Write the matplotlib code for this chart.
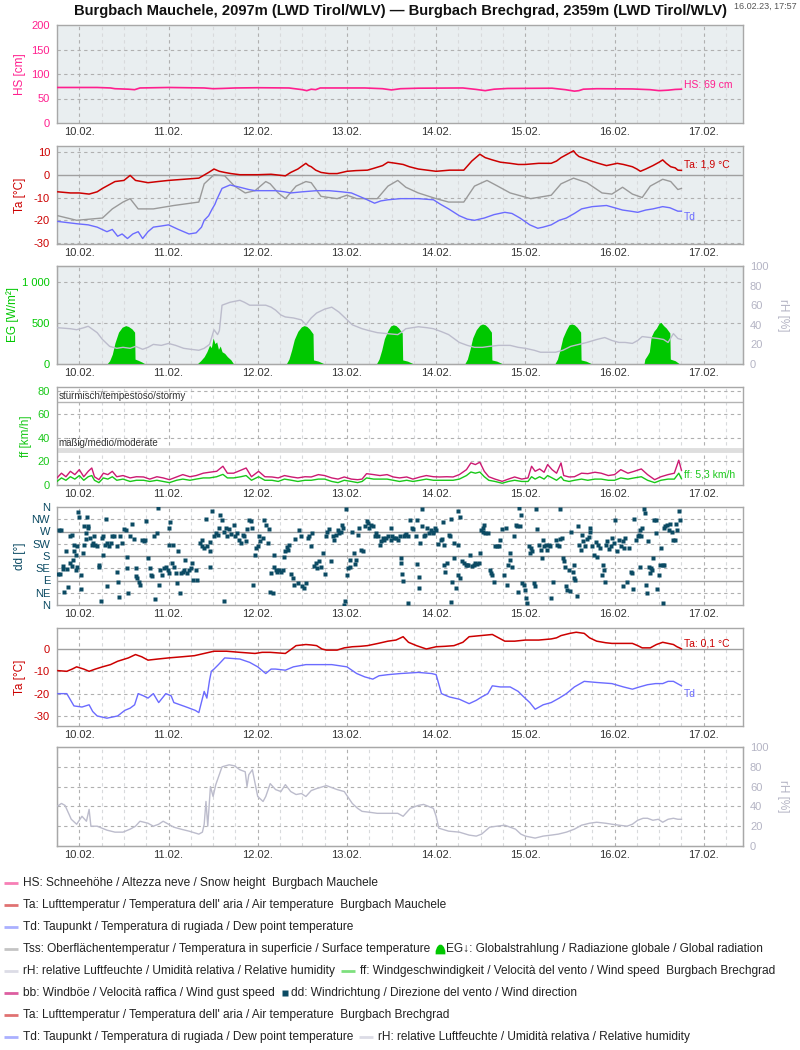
import matplotlib
matplotlib.use('Agg')
import matplotlib.pyplot as plt
import numpy as np

plt.rcParams['font.family'] = ['Liberation Sans', 'DejaVu Sans']
plt.rcParams['axes.unicode_minus'] = False

# ---------------- data (x = day of February, fractional) ----------------
day_ticks = [10, 11, 12, 13, 14, 15, 16, 17]
day_labels = ['10.02.', '11.02.', '12.02.', '13.02.', '14.02.', '15.02.', '16.02.', '17.02.']

hs = [(9.75,72.5),(10.2,72.5),(10.35,71.5),(10.4,70),(10.55,69),(10.62,68),(10.68,71.5),(11.0,72.5),
      (11.4,71.5),(11.5,70),(11.6,70.5),(11.75,71.5),(12.0,72),(12.35,71.5),(12.5,68),(12.55,66),
      (12.6,69),(12.65,68),(12.7,71.5),(13.2,71.5),(13.4,70),(13.5,67.5),(13.6,70),(13.8,71),(14.3,71.5),
      (14.45,68.5),(14.55,66),(14.65,69),(14.8,70.5),(15.3,71),(15.45,68),(15.55,65),(15.6,66),(15.65,69),
      (15.8,70),(16.2,69.5),(16.4,68),(16.5,66),(16.6,67),(16.68,68.5),(16.75,69)]

ta_mauchele = [(9.76,-7.5),(9.9,-8),(10.0,-8),(10.11,-8.5),(10.2,-7.5),(10.26,-6),(10.33,-4.5),(10.4,-3),
      (10.5,-2.5),(10.57,-0.3),(10.63,-2.5),(10.7,-3),(10.77,-3.5),(10.88,-3),(11.0,-2.5),(11.17,-2),
      (11.34,-1.5),(11.45,1),(11.51,2.5),(11.57,1.5),(11.63,1),(11.7,0.5),(11.8,0),(12.0,0),(12.15,0.2),
      (12.31,-0.5),(12.37,1),(12.45,2.5),(12.54,5),(12.57,4),(12.6,3.5),(12.65,2),(12.71,1),(12.8,0.5),
      (12.89,0.5),(13.0,1.5),(13.1,1.8),(13.23,2),(13.3,2.8),(13.4,4),(13.46,5.5),(13.55,5),(13.63,4.5),
      (13.7,3.5),(13.8,2.5),(13.9,2),(14.0,1.5),(14.15,2),(14.31,2),(14.4,6),(14.49,9),(14.55,7.5),
      (14.63,6.5),(14.72,5.5),(14.83,5),(14.92,4.5),(15.0,4.5),(15.15,5),(15.29,5),(15.35,6),(15.4,7.5),
      (15.47,9),(15.54,10.5),(15.57,9),(15.6,8),(15.67,7),(15.74,6),(15.82,5),(15.91,4),(15.97,4.5),
      (16.03,5),(16.1,4.5),(16.2,3.5),(16.25,2.5),(16.29,1.5),(16.35,2.5),(16.43,4),(16.5,5.5),(16.54,6.5),
      (16.58,5),(16.63,3.5),(16.68,3),(16.71,2),(16.75,1.9)]

tss_mauchele = [(9.76,-18),(9.97,-20),(10.26,-19),(10.37,-15),(10.49,-12),(10.57,-10.5),(10.66,-15),
      (10.83,-15),(11.06,-13.5),(11.34,-12),(11.4,-4),(11.51,0),(11.63,-0.5),(11.74,-5),(11.86,-8),
      (11.97,-7),(12.09,-3),(12.14,-4),(12.23,-8),(12.31,-10.5),(12.43,-5),(12.54,-3),(12.6,-3.5),
      (12.71,-9.5),(12.89,-10.5),(13.0,-9),(13.11,-10.5),(13.34,-10.5),(13.46,-5),(13.57,-2.5),(13.66,-5.5),
      (13.8,-8),(14.0,-10.5),(14.14,-12),(14.31,-12),(14.43,-5),(14.57,-2.5),(14.69,-5),(14.83,-8),
      (15.06,-10.5),(15.29,-9),(15.4,-4),(15.54,-1.5),(15.69,-3.5),(15.86,-8),(15.97,-8.5),(16.09,-5.5),
      (16.2,-8.5),(16.31,-10),(16.4,-5),(16.54,-2),(16.63,-3),(16.71,-6.5),(16.75,-6)]

td_mauchele = [(9.76,-20.5),(9.97,-21.5),(10.1,-22),(10.2,-23),(10.31,-25),(10.37,-24),(10.43,-27),
      (10.48,-26),(10.54,-28),(10.6,-26),(10.66,-25),(10.71,-28),(10.77,-25),(10.83,-23),(10.92,-22.5),
      (11.0,-22),(11.11,-24),(11.23,-26),(11.31,-25.5),(11.37,-23),(11.4,-20),(11.45,-18),(11.49,-15),
      (11.52,-13),(11.54,-11),(11.6,-6),(11.69,-4.5),(11.8,-5.5),(11.9,-6.5),(11.97,-7),(12.1,-7),
      (12.2,-7),(12.3,-7.5),(12.37,-8),(12.5,-7.5),(12.66,-7),(12.8,-7),(12.94,-7.5),(13.05,-8),
      (13.11,-9),(13.2,-10.5),(13.31,-12.5),(13.38,-11.5),(13.46,-11),(13.6,-10.5),(13.69,-10.5),
      (13.8,-10.5),(13.97,-11),(14.05,-13),(14.14,-15),(14.2,-16.5),(14.26,-18),(14.35,-19.5),(14.43,-20),
      (14.54,-19),(14.65,-17.5),(14.77,-16.5),(14.85,-17),(14.94,-19),(15.05,-22),(15.14,-23.5),
      (15.2,-23),(15.29,-22),(15.38,-20),(15.46,-19),(15.55,-17),(15.63,-15),(15.75,-14),(15.91,-13.5),
      (16.0,-14.5),(16.09,-15.5),(16.18,-16),(16.26,-16.5),(16.35,-15.5),(16.43,-15),(16.54,-14),
      (16.62,-14.5),(16.71,-16),(16.75,-16)]

eg_mauchele = [(9.75,0),(10.31,0),(10.34,40),(10.37,120),(10.40,260),(10.44,390),(10.48,450),(10.52,470),
      (10.55,460),(10.59,430),(10.62,390),(10.625,60),(10.66,45),(10.70,25),(10.74,0),
      (11.32,0),(11.36,40),(11.40,90),(11.43,150),(11.46,230),(11.48,200),(11.50,320),(11.52,250),
      (11.54,270),(11.56,180),(11.58,220),(11.60,150),(11.63,130),(11.66,90),(11.70,50),(11.73,0),
      (12.32,0),(12.35,60),(12.38,170),(12.41,300),(12.45,400),(12.49,455),(12.52,470),(12.55,460),
      (12.58,430),(12.62,370),(12.625,50),(12.68,35),(12.72,15),(12.75,0),
      (13.33,0),(13.36,60),(13.39,170),(13.42,310),(13.46,410),(13.49,465),(13.52,480),(13.55,470),
      (13.58,440),(13.62,380),(13.625,50),(13.68,35),(13.72,15),(13.75,0),
      (14.32,0),(14.35,60),(14.38,180),(14.41,320),(14.45,420),(14.49,475),(14.52,490),(14.55,480),
      (14.58,450),(14.62,390),(14.625,50),(14.68,35),(14.72,15),(14.75,0),
      (15.33,0),(15.36,60),(15.39,180),(15.42,320),(15.46,420),(15.49,480),(15.52,490),(15.55,480),
      (15.58,450),(15.62,390),(15.625,50),(15.68,35),(15.72,15),(15.75,0),
      (16.33,0),(16.34,60),(16.37,110),(16.39,150),(16.41,330),(16.44,400),(16.47,440),(16.50,500),
      (16.52,510),(16.55,470),(16.58,440),(16.62,380),(16.625,60),(16.68,40),(16.73,0),(16.75,0)]

rh_mauchele = [(9.76,37),(9.9,36),(9.97,35),(10.05,37),(10.1,38.5),(10.2,32),(10.26,25),(10.34,18),
      (10.42,16),(10.49,17),(10.57,16),(10.63,18),(10.71,15),(10.77,17),(10.83,20),(10.92,19),(11.0,21),
      (11.08,19),(11.17,16),(11.25,15),(11.34,14),(11.4,16),(11.46,20),(11.51,35),(11.55,30),(11.57,34),
      (11.6,60),(11.69,63),(11.8,65),(11.85,63),(11.91,60),(12.0,60),(12.09,60),(12.15,58),(12.2,55),
      (12.26,50),(12.31,48),(12.4,47),(12.49,45),(12.54,40),(12.6,47),(12.66,52),(12.75,56),(12.83,58),
      (12.91,53),(12.98,47),(13.06,40),(13.17,36),(13.25,34),(13.34,32),(13.45,31),(13.57,30),(13.62,33),
      (13.66,36),(13.73,37),(13.8,38),(13.9,37),(13.97,36),(14.06,33),(14.14,30),(14.2,26),(14.26,22),
      (14.35,19),(14.43,17),(14.52,17),(14.6,18),(14.7,19),(14.83,19),(14.92,17),(15.0,16),(15.1,14),
      (15.17,12),(15.25,12),(15.34,12),(15.42,14),(15.51,18),(15.6,20),(15.69,22),(15.8,25),(15.89,27),
      (15.97,24),(16.05,22),(16.12,22),(16.2,21),(16.26,24),(16.31,28),(16.4,27),(16.49,26),(16.55,25),
      (16.6,22),(16.66,31),(16.71,26),(16.75,25)]

wind_t = [9.75,9.80,9.85,9.90,9.95,10.00,10.05,10.10,10.14,10.17,
          10.22,10.27,10.32,10.37,10.42,10.49,10.57,10.64,10.72,10.79,
          10.87,10.94,11.01,11.09,11.16,11.24,11.31,11.39,11.46,11.54,
          11.61,11.66,11.73,11.81,11.87,11.93,12.01,12.08,12.16,12.23,
          12.30,12.38,12.45,12.53,12.60,12.68,12.75,12.83,12.90,12.97,
          13.05,13.12,13.17,13.22,13.30,13.37,13.45,13.52,13.59,13.67,
          13.74,13.82,13.89,13.97,14.04,14.12,14.19,14.26,14.34,14.39,
          14.44,14.49,14.54,14.59,14.66,14.74,14.81,14.88,14.96,15.03,
          15.07,15.11,15.16,15.21,15.25,15.30,15.35,15.40,15.43,15.49,
          15.55,15.63,15.70,15.78,15.85,15.93,16.00,16.07,16.15,16.22,
          16.30,16.37,16.45,16.52,16.60,16.67,16.72,16.75]
bb_brechgrad = [6,10,7,11.6,8.8,13,7,11.6,14.4,7,
          4.5,10,8.8,11.6,7,8,6,7,6.8,5,
          7,6,4.5,6.8,8.8,7,8,10,10.8,11.6,
          15.9,10,10,12.5,14.4,7,11.6,7,6.8,6,
          8,6.8,6,7,6.8,8.8,8,6,5,6.8,
          5,4.5,5,9.6,8.8,8,8.8,6.8,6,6.8,
          5,6.8,8,7,6.8,7,6.8,8.8,13,18.7,
          17.3,19.3,11.6,7,5,3.1,5,6.8,5,6,
          15.9,11.6,13.6,10.8,17.3,13,10,18.7,8,6.8,
          7,10,9.6,10.8,10,8,8.8,13,10,11.6,
          13.6,8.8,4.5,7,8.8,10,21,12.5]
ff_brechgrad = [3,6,4,7,5,8,4,7,8,4,
          2,6,5,7,4,5,3,4,4,3,
          4,3,2,4,5,4,5,6,6,7,
          9,6,6,7,8,4,7,4,4,3,
          5,4,3,4,4,5,5,3,2,4,
          3,2,3,6,5,5,5,4,3,4,
          3,4,5,4,4,4,4,5,8,11,
          10,11,7,4,3,1.5,3,4,3,3,
          7,5,7,5,8,6,4,7,4,3,
          4,5,4,5,5,4,4,6,5,6,
          7,4,2,4,5,5,10,5.3]

dd_brechgrad = [
 (9.77,277),(9.79,277),(9.76,114),(9.78,114),(9.85,199),(9.82,144),(9.82,132),(9.86,132),(9.83,49),(9.87,65),
 (9.9,252),(9.92,257),(9.94,221),(9.97,215),(9.94,197),(9.96,184),(9.93,166),(9.9,156),(9.92,144),(9.97,141),
 (9.96,129),(9.99,342),(10.0,323),(10.02,58),(10.02,111),(10.05,289),(10.08,264),(10.1,291),(10.1,283),(10.09,323),
 (10.12,246),(10.14,221),(10.16,252),(10.15,227),(10.18,221),(10.2,218),(10.04,191),(10.05,221),(10.07,242),(10.22,148),
 (10.22,141),(10.24,15),(10.25,246),(10.27,252),(10.29,221),(10.3,316),(10.31,227),(10.27,184),(10.31,70),(10.33,215),
 (10.35,227),(10.37,254),(10.39,252),(10.42,218),(10.42,123),(10.43,86),(10.44,28),(10.46,252),(10.48,227),(10.5,279),
 (10.52,277),(10.54,178),(10.54,135),(10.55,43),(10.57,252),(10.59,298),(10.61,242),(10.63,135),(10.64,105),(10.65,98),
 (10.67,86),(10.68,74),(10.7,240),(10.72,234),(10.74,240),(10.75,307),(10.77,172),(10.79,135),(10.8,111),(10.82,105),
 (10.84,254),(10.85,21),(10.87,264),(10.88,357),(10.89,74),(10.91,129),(10.93,111),(10.95,135),(10.97,139),(10.99,129),
 (11.0,221),(11.01,283),(11.02,304),(11.01,117),(11.04,154),(11.05,221),(11.06,141),(11.08,117),(11.09,82),(11.11,197),
 (11.13,43),(11.14,117),(11.16,123),(11.17,129),(11.19,166),(11.21,117),(11.23,129),(11.25,135),(11.26,154),(11.28,92),
 (11.31,129),(11.32,92),(11.35,227),(11.37,237),(11.38,218),(11.4,209),(11.42,316),(11.43,215),(11.46,230),(11.47,197),
 (11.46,141),(11.49,344),(11.51,252),(11.53,264),(11.55,258),(11.57,283),(11.58,332),(11.6,313),(11.62,267),(11.62,16),
 (11.64,283),(11.66,252),(11.68,279),(11.7,262),(11.73,295),(11.75,252),(11.77,264),(11.79,240),(11.81,227),(11.83,258),
 (11.85,252),(11.87,234),(11.88,279),(11.9,313),(11.92,307),(11.94,283),(11.95,74),(11.97,184),(11.98,209),(12.0,215),
 (12.01,252),(12.03,234),(12.06,246),(12.07,313),(12.09,295),(12.11,227),(12.13,279),(12.14,49),(12.15,117),(12.17,43),
 (12.18,184),(12.18,141),(12.2,129),(12.22,123),(12.24,129),(12.26,123),(12.28,129),(12.3,178),(12.31,197),(12.33,212),
 (12.34,203),(12.35,221),(12.37,114),(12.39,98),(12.41,74),(12.42,242),(12.45,80),(12.46,277),(12.48,252),(12.5,70),
 (12.52,61),(12.54,80),(12.56,246),(12.58,252),(12.6,215),(12.61,264),(12.63,144),(12.65,154),(12.67,135),(12.69,160),
 (12.71,141),(12.73,191),(12.75,114),(12.77,252),(12.78,270),(12.8,279),(12.82,160),(12.84,252),(12.86,240),(12.88,258),
 (12.9,277),(12.91,264),(12.93,270),(12.95,295),(12.96,283),(12.97,0),(12.98,16),(12.99,353),(13.0,111),(13.01,135),
 (13.03,141),(13.04,166),(13.06,267),(13.08,191),(13.09,151),(13.1,166),(13.12,258),(13.14,283),(13.16,203),(13.18,197),
 (13.2,291),(13.22,307),(13.24,301),(13.25,283),(13.27,295),(13.29,289),(13.31,252),(13.33,264),(13.35,252),(13.37,221),
 (13.38,234),(13.4,246),(13.42,240),(13.44,246),(13.46,252),(13.49,283),(13.49,240),(13.51,254),(13.53,246),(13.55,246),
 (13.57,240),(13.59,252),(13.61,154),(13.62,114),(13.61,172),(13.63,89),(13.69,9),(13.64,252),(13.65,258),(13.66,262),
 (13.68,254),(13.71,311),(13.73,283),(13.74,279),(13.77,252),(13.79,311),(13.79,151),(13.81,102),(13.81,61),(13.82,227),
 (13.84,353),(13.84,289),(13.86,252),(13.88,258),(13.9,283),(13.92,264),(13.94,277),(13.96,267),(13.97,264),(13.99,283),
 (14.0,277),(14.02,225),(14.05,240),(14.07,242),(14.08,304),(14.09,221),(14.09,148),(14.1,123),(14.12,154),(14.14,258),
 (14.16,252),(14.17,316),(14.17,12),(14.18,86),(14.2,227),(14.2,172),(14.22,61),(14.24,111),(14.25,221),(14.25,344),
 (14.27,323),(14.27,98),(14.29,160),(14.31,154),(14.33,148),(14.35,148),(14.36,148),(14.38,184),(14.4,144),(14.42,148),
 (14.44,154),(14.46,151),(14.48,154),(14.49,191),(14.5,277),(14.52,270),(14.53,283),(14.54,295),(14.55,264),(14.58,264),
 (14.6,129),(14.61,117),(14.63,111),(14.65,86),(14.66,218),(14.68,215),(14.7,215),(14.72,240),(14.74,279),(14.76,111),
 (14.78,283),(14.79,74),(14.81,148),(14.83,164),(14.83,191),(14.85,141),(14.87,252),(14.89,295),(14.91,289),(14.92,49),
 (14.93,357),(14.94,289),(14.95,332),(14.96,80),(14.98,74),(15.0,55),(15.01,25),(15.02,9),(15.04,215),(15.05,191),
 (15.06,209),(15.08,197),(15.1,80),(15.11,68),(15.12,353),(15.13,279),(15.15,221),(15.17,203),(15.19,172),(15.2,240),
 (15.21,215),(15.23,221),(15.24,203),(15.26,221),(15.28,215),(15.29,25),(15.31,86),(15.34,240),(15.36,221),(15.38,215),
 (15.39,353),(15.39,242),(15.41,246),(15.42,172),(15.43,160),(15.45,141),(15.46,70),(15.47,55),(15.49,129),(15.5,53),
 (15.51,267),(15.53,123),(15.54,98),(15.54,148),(15.56,92),(15.58,33),(15.59,289),(15.6,221),(15.62,203),(15.64,258),
 (15.65,234),(15.67,215),(15.69,242),(15.71,250),(15.72,283),(15.73,267),(15.75,215),(15.77,184),(15.79,230),(15.8,178),
 (15.82,221),(15.84,209),(15.86,111),(15.87,148),(15.88,129),(15.89,86),(15.9,221),(15.92,234),(15.94,205),(15.96,215),
 (15.97,246),(15.99,227),(16.01,311),(16.03,197),(16.05,240),(16.07,215),(16.09,234),(16.1,70),(16.11,209),(16.12,246),
 (16.14,86),(16.16,209),(16.18,123),(16.2,117),(16.21,58),(16.22,316),(16.24,240),(16.26,252),(16.27,258),(16.28,141),
 (16.29,277),(16.3,252),(16.31,283),(16.33,353),(16.34,338),(16.35,74),(16.36,43),(16.37,234),(16.39,141),(16.4,117),
 (16.41,135),(16.42,129),(16.43,172),(16.44,313),(16.46,311),(16.47,264),(16.48,58),(16.5,111),(16.51,148),(16.52,209),
 (16.54,148),(16.54,9),(16.55,148),(16.56,283),(16.57,289),(16.59,295),(16.61,277),(16.62,299),(16.64,270),(16.66,237),
 (16.68,240),(16.69,299),(16.7,277),(16.72,344),(16.73,313)]
dd_ticks = [0, 45, 90, 135, 180, 225, 270, 315, 360]
dd_labels = ['N', 'NE', 'E', 'SE', 'S', 'SW', 'W', 'NW', 'N']

ta_brechgrad = [(9.76,-9.7),(9.86,-10),(9.92,-9),(9.97,-8),(10.05,-9),(10.11,-10),(10.18,-9),(10.26,-8),
      (10.35,-7),(10.43,-5.5),(10.55,-4),(10.63,-2.5),(10.7,-3.5),(10.77,-5),(10.88,-4.5),(11.0,-4),
      (11.15,-3.5),(11.29,-3),(11.4,-2),(11.51,-1),(11.65,-1),(11.8,-1.5),(11.97,-2),(12.05,-1.5),
      (12.14,-1.5),(12.31,-2),(12.38,0),(12.43,1.5),(12.54,2),(12.6,1.8),(12.66,1.5),(12.72,0),(12.77,-0.5),
      (12.89,-0.5),(12.97,0.5),(13.06,1),(13.15,1.2),(13.23,1.5),(13.35,2.5),(13.46,3.5),(13.55,4),
      (13.63,5.5),(13.69,3),(13.78,1.5),(13.89,0),(14.0,1),(14.1,1.2),(14.2,1.5),(14.3,3),(14.37,5.5),
      (14.5,6),(14.63,6.5),(14.7,5),(14.77,3.5),(14.88,3.5),(15.0,4),(15.15,4),(15.29,4.5),(15.35,5),
      (15.4,6),(15.5,7),(15.57,7.5),(15.66,7),(15.72,5),(15.8,3.5),(15.9,2.8),(15.97,2.5),(16.1,2.5),
      (16.2,2.5),(16.26,1.5),(16.31,0.5),(16.4,0.5),(16.47,2),(16.54,3),(16.6,2.5),(16.66,2),(16.7,1),
      (16.75,0.1)]

td_brechgrad = [(9.76,-20),(9.86,-20),(9.94,-25.5),(10.03,-26),(10.11,-25),(10.15,-28),(10.2,-30),
      (10.31,-31),(10.37,-30.5),(10.43,-30),(10.51,-27.5),(10.57,-26.5),(10.62,-25),(10.66,-20),(10.72,-21),
      (10.77,-22),(10.83,-20),(10.89,-24),(10.97,-20),(11.03,-21),(11.06,-24),(11.2,-26),(11.3,-27.5),
      (11.34,-28.5),(11.4,-19),(11.43,-22),(11.46,-14),(11.48,-10),(11.51,-9),(11.56,-7),(11.63,-4),
      (11.8,-4.5),(11.91,-6),(12.0,-8),(12.09,-11),(12.15,-9),(12.2,-9),(12.31,-9.5),(12.4,-8),(12.54,-7),
      (12.7,-7),(12.83,-7),(13.0,-8),(13.11,-11),(13.2,-12.5),(13.29,-13.5),(13.36,-12),(13.46,-11.5),
      (13.6,-11),(13.8,-10.5),(13.95,-11),(14.0,-11.5),(14.06,-20),(14.15,-21.5),(14.26,-22.5),(14.37,-24.5),
      (14.45,-23),(14.51,-21.5),(14.58,-20),(14.63,-16.5),(14.72,-17),(14.83,-17),(14.92,-19),(14.97,-21),
      (15.05,-24),(15.11,-27),(15.2,-25),(15.29,-24),(15.38,-22),(15.46,-20),(15.55,-17),(15.66,-14.5),
      (15.8,-15),(15.97,-15.5),(16.1,-17),(16.2,-18),(16.28,-17),(16.37,-16),(16.46,-15.5),(16.54,-15.5),
      (16.6,-14.5),(16.66,-14.5),(16.75,-16.5)]

rh_brechgrad = [(9.76,40.5),(9.8,43),(9.84,41),(9.91,27),(9.97,22),(10.03,30),(10.08,25),(10.11,37),
      (10.13,20),(10.2,20),(10.31,16),(10.4,14),(10.49,14),(10.57,17),(10.63,20),(10.68,25),(10.77,23),
      (10.83,20),(10.89,22),(10.94,25),(11.0,22),(11.06,19),(11.14,17),(11.23,15),(11.34,12),(11.38,14),
      (11.4,22),(11.42,45),(11.44,20),(11.47,60),(11.5,50),(11.53,62),(11.6,80),(11.68,82),(11.74,81),
      (11.8,77),(11.86,75),(11.88,60),(11.9,72),(11.94,77),(12.0,50),(12.06,45),(12.09,50),(12.14,63),
      (12.2,57),(12.26,55),(12.31,62),(12.37,55),(12.43,52),(12.49,53),(12.54,50),(12.6,56),(12.66,58),
      (12.77,61),(12.89,57),(12.97,55),(13.06,43),(13.12,38),(13.17,35),(13.26,34),(13.34,33),(13.45,33),
      (13.57,33),(13.63,30),(13.71,38),(13.8,41),(13.86,42),(13.97,38),(14.0,30),(14.03,18),(14.14,15),
      (14.26,14),(14.37,11),(14.45,10),(14.51,12),(14.6,19),(14.68,20),(14.77,21),(14.83,19),(14.89,17),
      (14.95,12),(15.0,10),(15.11,8),(15.2,10),(15.29,11),(15.37,12),(15.46,14),(15.55,17),(15.63,21),
      (15.72,23),(15.8,24),(15.9,23),(15.97,22),(16.05,21),(16.14,20),(16.2,22),(16.26,26),(16.32,28),
      (16.37,28),(16.43,26),(16.49,27),(16.54,24),(16.6,27),(16.66,28),(16.71,27),(16.75,27)]

TITLE = 'Burgbach Mauchele, 2097m (LWD Tirol/WLV) \u2014 Burgbach Brechgrad, 2359m (LWD Tirol/WLV)'
STAMP = '16.02.23, 17:57'

# ---------------- styling ----------------
HS_C = '#ff1f8e'; TA_C = '#cc0000'; TD_C = '#6b6bff'; TSS_C = '#9a9a9a'
EG_C = '#00c800'; RH_C = '#bcbccc'; RH_T = '#b4b4c4'; FF_C = '#19c819'
BB_C = '#cc1a72'; DD_C = '#0b4a63'
BG = '#e9eef0'
W, H = 800, 1050
X0, X1 = 57, 743
XMIN, XMAX = 9.75, 17.44

def unzip(p):
    return [a for a, b in p], [b for a, b in p]

fig = plt.figure(figsize=(W / 100, H / 100), dpi=100)
ov = fig.add_axes([0, 0, 1, 1])
ov.set_xlim(0, W); ov.set_ylim(H, 0); ov.axis('off')

six_hours = [x for x in np.arange(XMIN, XMAX, 0.25) if abs(x - round(x)) > 0.01]

def panel(top, bot, bg):
    ax = fig.add_axes([X0 / W, 1 - bot / H, (X1 - X0) / W, (bot - top) / H])
    ax.set_facecolor(bg)
    ax.set_xlim(XMIN, XMAX)
    ax.set_xticks(day_ticks)
    ax.set_xticklabels(day_labels)
    for x in six_hours:
        ax.axvline(x, color='#d8dadc', lw=0.8, ls=(0, (3, 3)), zorder=0.5)
    for x in day_ticks:
        ax.axvline(x, color='#b0b0b0', lw=0.8, ls=(0, (3, 3)), zorder=0.6)
    ax.tick_params(axis='x', which='both', length=0, labelsize=8, labelcolor='#333333', pad=3)
    ax.tick_params(axis='y', length=0, labelsize=8, pad=5)
    for s in ax.spines.values():
        s.set_color('#a8a8a8'); s.set_linewidth(1)
    return ax

def hgrid(ax, dashed=(), solid=(), c='#b0b0b0'):
    for v in dashed:
        ax.axhline(v, color=c, lw=0.8, ls=(0, (3, 3)), zorder=0.6)
    for v in solid:
        ax.axhline(v, color='#a0a0a0', lw=1, zorder=0.7)

def ylab(ax, text, color, px=21, rot=90):
    ax.text((px - X0) / (X1 - X0), 0.5, text, transform=ax.transAxes, rotation=rot,
            ha='center', va='center', color=color, fontsize=8.5)

XLAB = 16.78

# Panel 1: HS
ax1 = panel(25, 123, BG)
ax1.set_ylim(0, 200)
ax1.set_yticks([0, 50, 100, 150, 200])
ax1.tick_params(axis='y', labelcolor=HS_C)
hgrid(ax1, dashed=[50, 100, 150])
t, v = unzip(hs)
ax1.plot(t, v, color=HS_C, lw=1.2, zorder=3)
ax1.text(XLAB, 77, 'HS: 69 cm', color=HS_C, fontsize=7.5, va='center')
ylab(ax1, 'HS [cm]', HS_C, px=20)

# Panel 2: Ta / Tss / Td Mauchele
ax2 = panel(146, 244, BG)
ax2.set_ylim(-30.4, 12.6)
ax2.set_yticks([-30, -20, -10, 0, 10])
ax2.tick_params(axis='y', labelcolor=TA_C)
hgrid(ax2, dashed=[-30, -20, -10, 10], solid=[0])
t, v = unzip(tss_mauchele); ax2.plot(t, v, color=TSS_C, lw=1, zorder=3)
t, v = unzip(td_mauchele); ax2.plot(t, v, color=TD_C, lw=1, zorder=3)
t, v = unzip(ta_mauchele); ax2.plot(t, v, color=TA_C, lw=1.1, zorder=4)
ax2.text(XLAB, 4.5, 'Ta: 1,9 \u00b0C', color=TA_C, fontsize=7.5, va='center')
ax2.text(XLAB, -18.5, 'Td', color=TD_C, fontsize=7.5, va='center')
ylab(ax2, 'Ta [\u00b0C]', TA_C, px=20)

# Panel 3: EG + rH Mauchele
ax3 = panel(266, 364, BG)
ax3.set_ylim(0, 1200)
ax3.set_yticks([0, 500, 1000])
ax3.set_yticklabels(['0', '500', '1 000'])
ax3.tick_params(axis='y', labelcolor=EG_C)
hgrid(ax3, dashed=[500, 1000])
t, v = unzip(eg_mauchele)
ax3.fill_between(t, 0, v, color=EG_C, lw=0, zorder=3)
ylab(ax3, 'EG [W/m\u00b2]', EG_C, px=13)
ax3r = ax3.twinx()
ax3r.set_ylim(0, 100)
ax3r.set_yticks([0, 20, 40, 60, 80, 100])
ax3r.tick_params(axis='y', length=0, labelsize=8, pad=5, labelcolor=RH_T)
for s in ax3r.spines.values():
    s.set_color('#a8a8a8')
t, v = unzip(rh_mauchele)
ax3r.plot(t, v, color=RH_C, lw=1, zorder=4)
ylab(ax3r, 'rH [%]', RH_T, px=783, rot=270)

# Panel 4: wind speed / gusts
ax4 = panel(387, 485, 'white')
ax4.set_ylim(0, 83)
ax4.set_yticks([0, 20, 40, 60, 80])
ax4.tick_params(axis='y', labelcolor=FF_C)
hgrid(ax4, dashed=[20, 40, 60, 80])
ax4.axhline(70, color='#b4b4b4', lw=1, zorder=0.8)
ax4.axhline(29.5, color='#dedede', lw=3.5, zorder=0.8)
ax4.text(9.765, 71.5, 'st\u00fcrmisch/tempestoso/stormy', fontsize=7, color='#333333', va='bottom')
ax4.text(9.765, 31.5, 'm\u00e4\u00dfig/medio/moderate', fontsize=7, color='#333333', va='bottom')
ax4.plot(wind_t, bb_brechgrad, color=BB_C, lw=1, zorder=3)
ax4.plot(wind_t, ff_brechgrad, color=FF_C, lw=1, zorder=4)
ax4.text(XLAB, 8.5, 'ff: 5,3 km/h', color=FF_C, fontsize=7.5, va='center')
ylab(ax4, 'ff [km/h]', FF_C, px=26)

# Panel 5: wind direction
ax5 = panel(507, 605, 'white')
ax5.set_ylim(0, 360)
ax5.set_yticks(dd_ticks)
ax5.set_yticklabels(dd_labels)
ax5.tick_params(axis='y', labelcolor=DD_C)
hgrid(ax5, dashed=[45, 135, 225, 315], solid=[90, 180, 270])
t, v = unzip(dd_brechgrad)
ax5.plot(t, v, 's', ms=2.5, color=DD_C, mec='none', zorder=4)
ylab(ax5, 'dd [\u00b0]', DD_C, px=20)

# Panel 6: Ta / Td Brechgrad
ax6 = panel(628, 726, 'white')
ax6.set_ylim(-34.5, 9.4)
ax6.set_yticks([-30, -20, -10, 0])
ax6.tick_params(axis='y', labelcolor=TA_C)
hgrid(ax6, dashed=[-30, -20, -10], solid=[0])
t, v = unzip(td_brechgrad); ax6.plot(t, v, color=TD_C, lw=1, zorder=3)
t, v = unzip(ta_brechgrad); ax6.plot(t, v, color=TA_C, lw=1.1, zorder=4)
ax6.text(XLAB, 2.3, 'Ta: 0,1 \u00b0C', color=TA_C, fontsize=7.5, va='center')
ax6.text(XLAB, -20, 'Td', color=TD_C, fontsize=7.5, va='center')
ylab(ax6, 'Ta [\u00b0C]', TA_C, px=20)

# Panel 7: rH Brechgrad
ax7 = panel(747, 846, 'white')
ax7.set_ylim(0, 100)
ax7.set_yticks([])
hgrid(ax7, dashed=[20, 40, 60, 80])
ax7r = ax7.twinx()
ax7r.set_ylim(0, 100)
ax7r.set_yticks([0, 20, 40, 60, 80, 100])
ax7r.tick_params(axis='y', length=0, labelsize=8, pad=5, labelcolor=RH_T)
for s in ax7r.spines.values():
    s.set_color('#a8a8a8')
t, v = unzip(rh_brechgrad)
ax7r.plot(t, v, color=RH_C, lw=1, zorder=4)
ylab(ax7r, 'rH [%]', RH_T, px=783, rot=270)

# title & stamp
ov.text(400, 11, TITLE, ha='center', va='center', fontsize=10.6, fontweight='bold', color='#111111')
ov.text(797, 6, STAMP, ha='right', va='center', fontsize=6.5, color='#555555')

# legend
HS_L = '#f77fb5'; TA_L = '#e07272'; TD_L = '#aab0ff'; TSS_L = '#c4c4c4'
RH_L = '#dcdce6'; FF_L = '#7ee07e'; BB_L = '#dd5ea0'
bell = [(-1, -1), (-1, -0.3), (-0.7, 0.5), (-0.3, 0.95), (0, 1), (0.3, 0.95), (0.7, 0.5), (1, -0.3), (1, -1), (-1, -1)]
legend_rows = [
    [('line', HS_L, 'HS: Schneeh\u00f6he / Altezza neve / Snow height  Burgbach Mauchele')],
    [('line', TA_L, "Ta: Lufttemperatur / Temperatura dell' aria / Air temperature  Burgbach Mauchele")],
    [('line', TD_L, 'Td: Taupunkt / Temperatura di rugiada / Dew point temperature')],
    [('line', TSS_L, 'Tss: Oberfl\u00e4chentemperatur / Temperatura in superficie / Surface temperature'),
     ('bell', EG_C, 'EG\u2193: Globalstrahlung / Radiazione globale / Global radiation')],
    [('line', RH_L, 'rH: relative Luftfeuchte / Umidit\u00e0 relativa / Relative humidity'),
     ('line', FF_L, 'ff: Windgeschwindigkeit / Velocit\u00e0 del vento / Wind speed  Burgbach Brechgrad')],
    [('line', BB_L, 'bb: Windb\u00f6e / Velocit\u00e0 raffica / Wind gust speed'),
     ('square', DD_C, 'dd: Windrichtung / Direzione del vento / Wind direction')],
    [('line', TA_L, "Ta: Lufttemperatur / Temperatura dell' aria / Air temperature  Burgbach Brechgrad")],
    [('line', TD_L, 'Td: Taupunkt / Temperatura di rugiada / Dew point temperature'),
     ('line', RH_L, 'rH: relative Luftfeuchte / Umidit\u00e0 relativa / Relative humidity')],
]
LEG_Y = [883, 905, 927, 949, 971, 993, 1015, 1037]

fig.canvas.draw()
rend = fig.canvas.get_renderer()
for y, items in zip(LEG_Y, legend_rows):
    x = 4
    for i, (kind, col, label) in enumerate(items):
        if kind == 'line':
            ov.plot([x, x + 14], [y, y], color=col, lw=2, solid_capstyle='butt')
            tx = x + 19
        elif kind == 'bell':
            ov.plot([x + 4], [y], marker=bell, ms=7, color=col, mec='none')
            tx = x + 10
        else:
            ov.plot([x + 4], [y], marker='s', ms=4.5, color=col, mec='none')
            tx = x + 10
        txt = ov.text(tx, y, label, ha='left', va='center', fontsize=8.6, color='#222222')
        w = txt.get_window_extent(rend).width
        x = tx + w + 6

fig.savefig('out.png', dpi=100)
